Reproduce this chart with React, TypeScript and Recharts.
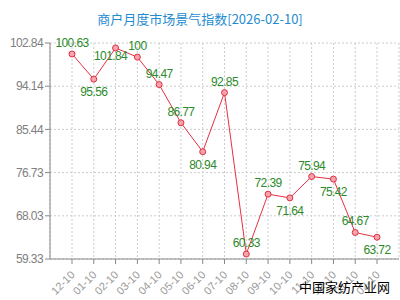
import { LineChart, Line, XAxis, YAxis, CartesianGrid, LabelList } from "recharts";

const months = ["12-10", "01-10", "02-10", "03-10", "04-10", "05-10", "06-10", "07-10", "08-10", "09-10", "10-10", "11-10", "12-10", "01-10", "02-10"];
const index = [100.63, 95.56, 101.84, 100, 94.47, 86.77, 80.94, 92.85, 60.33, 72.39, 71.64, 75.94, 75.42, 64.67, 63.72];
// where each value label sits: "up", "down", or "downLeft"
const labelSide = ["up", "down", "downLeft", "up", "up", "up", "down", "up", "up", "up", "down", "up", "down", "up", "down"];
const yTicks = [102.84, 94.14, 85.44, 76.73, 68.03, 59.33];

const data = months.map((m, i) => ({ month: m, value: index[i] }));

const FONT = "Arial, 'Liberation Sans', sans-serif";

const XTick = ({ x, y, payload }: any) => (
  <g transform={`translate(${x - 2},${y + 4}) rotate(-45)`}>
    <text textAnchor="end" dy="0.71em" fontSize={11} fill="#999" fontFamily={FONT}>
      {payload.value}
    </text>
  </g>
);

const ValueLabel = ({ x, y, value, index: i }: any) => {
  const side = labelSide[i];
  let dx = 0;
  let dy = -7;
  if (side === "down") dy = 17;
  if (side === "downLeft") { dy = 12; dx = -5; }
  return (
    <text x={x + dx} y={y + dy} textAnchor="middle" fontSize={12} letterSpacing={-0.6} fill="#2b8a2b" fontFamily={FONT}>
      {value}
    </text>
  );
};

export default function App() {
  return (
    <div style={{ position: "fixed", left: 0, top: 0, width: 400, height: 300, background: "#fff" }}>
      <div style={{ position: "absolute", left: 0, top: 11, width: 400, textAlign: "center", fontSize: 13, color: "#1f8bd0", fontFamily: "'Noto Sans CJK SC', sans-serif", lineHeight: "16px" }}>
        商户月度市场景气指数[2026-02-10]
      </div>
      <LineChart width={400} height={300} data={data} margin={{ top: 43, right: 1, bottom: 0, left: 0 }}>
        <CartesianGrid stroke="#ccc" strokeDasharray="2 2" />
        <XAxis
          dataKey="month"
          height={41}
          interval={0}
          padding={{ left: 22, right: 22 }}
          tick={<XTick />}
          tickSize={5}
          stroke="#888"
        />
        <XAxis xAxisId="top" orientation="top" dataKey="month" height={0} tick={false} tickLine={false} stroke="#999" />
        <YAxis
          domain={[59.33, 102.84]}
          ticks={yTicks}
          interval={0}
          width={50}
          tickSize={5}
          stroke="#888"
          tick={{ fontSize: 12, fill: "#808080", fontFamily: FONT, letterSpacing: -0.6 }}
        />
        <YAxis yAxisId="right" orientation="right" width={0} tick={false} tickLine={false} stroke="#999" />
        <Line
          type="linear"
          dataKey="value"
          stroke="#e6303f"
          strokeWidth={1}
          dot={{ r: 3, fill: "#f6a3ad", stroke: "#e0303f", strokeWidth: 1 }}
          isAnimationActive={false}
        >
          <LabelList dataKey="value" content={<ValueLabel />} />
        </Line>
      </LineChart>
      <div style={{ position: "absolute", right: 10, bottom: 5, fontSize: 13, color: "#000", fontFamily: "'Noto Sans CJK SC', sans-serif", lineHeight: "16px" }}>
        中国家纺产业网
      </div>
    </div>
  );
}
